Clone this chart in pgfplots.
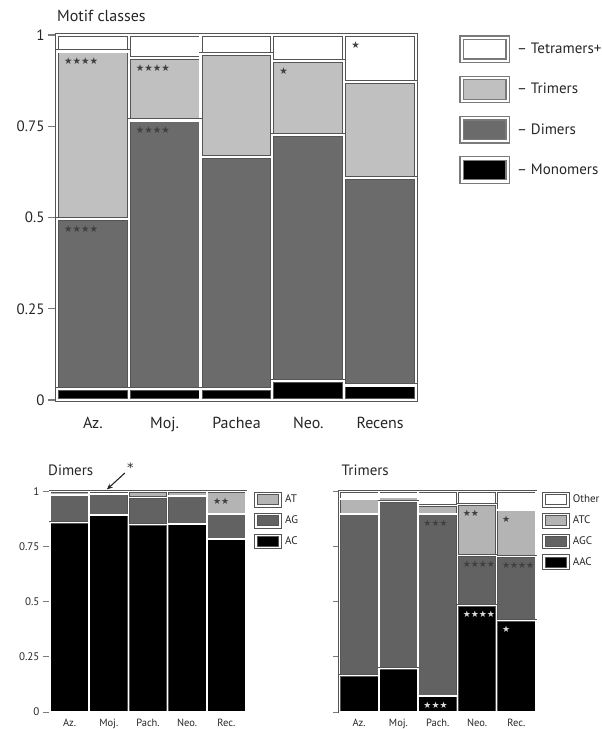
\documentclass[border=0pt]{standalone}
\usepackage{pgfplots}
\pgfplotsset{compat=1.18}
\usepackage{pgfplotstable}
\usetikzlibrary{arrows.meta}
\usepackage{fontspec}
\setmainfont{PT Sans}
\newfontfamily\sym{DejaVu Sans}
\definecolor{cTri}{HTML}{C0C0C0}
\definecolor{cDi}{HTML}{6B6B6B}
\definecolor{cAT}{HTML}{B4B4B4}
\definecolor{cAG}{HTML}{626262}
\definecolor{segline}{HTML}{555555}
\definecolor{frame}{HTML}{7A7A7A}

% Motif classes (fractions)
\pgfplotstableread{
x Mono Di Tri Tet
0 0.030 0.465 0.460 0.045
1 0.030 0.736 0.170 0.064
2 0.030 0.635 0.284 0.051
3 0.052 0.673 0.204 0.071
4 0.040 0.569 0.262 0.129
}\motif
\pgfplotstableread{
x y s
0 0.955 ★★★★
0 0.495 ★★★★
1 0.936 ★★★★
1 0.766 ★★★★
3 0.929 ★
4 1.000 ★
}\motifstars

% Dimers
\pgfplotstableread{
x AC AG AT
0 0.860 0.125 0.015
1 0.895 0.095 0.010
2 0.850 0.125 0.025
3 0.853 0.127 0.020
4 0.785 0.113 0.102
}\dimers
\pgfplotstableread{
x y s
4 1.000 ★★
}\dimstars

% Trimers
\pgfplotstableread{
x AAC AGC ATC Other
0 0.167 0.732 0.068 0.033
1 0.198 0.758 0.020 0.024
2 0.072 0.827 0.038 0.063
3 0.484 0.226 0.231 0.059
4 0.416 0.290 0.211 0.083
}\trimers
\pgfplotstableread{
x y s
2 0.899 ★★★
3 0.941 ★★
3 0.710 ★★★★
4 0.917 ★
4 0.706 ★★★★
}\tristarsdark
\pgfplotstableread{
x y s
2 0.072 ★★★
3 0.484 ★★★★
4 0.416 ★
}\tristarswhite

\begin{document}
\begin{tikzpicture}
\useasboundingbox (0,0) rectangle (602pt,-729pt);

% ---------------- Top: Motif classes ----------------
\begin{axis}[
  at={(57pt,-400pt)}, anchor=south west,
  scale only axis, width=359pt, height=365pt,
  ybar stacked, bar width=71.8pt,
  xmin=-0.5, xmax=4.5, ymin=0, ymax=1,
  xtick={0,...,4}, xticklabels={Az.,Moj.,Pachea,Neo.,Recens},
  ytick={0,0.25,0.5,0.75,1}, yticklabels={0,0.25,0.5,0.75,1},
  tick align=outside, major tick length=9pt,
  xtick style={draw=none}, ytick pos=left,
  axis line style={draw=frame, line width=1.3pt},
  ytick style={draw=frame, line width=1.3pt},
  yticklabel style={font=\fontsize{15}{18}\selectfont, text=black!85},
  xticklabel style={font=\fontsize{16}{19}\selectfont, yshift=-5pt, text=black!85},
  title={Motif classes},
  title style={at={(0,1)}, anchor=base west, yshift=8pt, inner sep=0pt,
               font=\fontsize{16}{19}\selectfont, text=black!85},
  every axis plot/.append style={draw=segline, double=white, double distance=2.2pt, line width=0.9pt},
  legend style={at={(1.12,1)}, anchor=north west, draw=none, fill=none,
                inner sep=0pt, row sep=12.5pt, column sep=5pt,
                font=\fontsize{15}{18}\selectfont, text=black!85, cells={anchor=west}},
  clip=false,
]
\addplot[fill=black, forget plot] table[x=x, y=Mono] {\motif};
\addplot[fill=cDi, forget plot] table[x=x, y=Di] {\motif};
\addplot[fill=cTri, forget plot] table[x=x, y=Tri] {\motif};
\addplot[fill=white, forget plot] table[x=x, y=Tet] {\motif};
\addlegendimage{legend image code/.code={\draw[fill=white, draw=frame, line width=1.3pt] (0pt,-11.5pt) rectangle (46pt,11.5pt);}}
\addlegendentry{– Tetramers+}
\addlegendimage{legend image code/.code={\draw[fill=cTri, draw=frame, line width=1.3pt] (0pt,-11.5pt) rectangle (46pt,11.5pt);}}
\addlegendentry{– Trimers}
\addlegendimage{legend image code/.code={\draw[fill=cDi, draw=frame, line width=1.3pt] (0pt,-11.5pt) rectangle (46pt,11.5pt);}}
\addlegendentry{– Dimers}
\addlegendimage{legend image code/.code={\draw[fill=black, draw=frame, line width=1.3pt] (0pt,-11.5pt) rectangle (46pt,11.5pt);}}
\addlegendentry{– Monomers}
\end{axis}
\begin{axis}[
  at={(57pt,-400pt)}, anchor=south west,
  scale only axis, width=359pt, height=365pt,
  xmin=-0.5, xmax=4.5, ymin=0, ymax=1,
  hide axis, clip=false,
]
\addplot[draw=none, mark=none, nodes near coords, point meta=explicit symbolic,
  nodes near coords style={font=\sym\fontsize{9.5}{9.5}\selectfont, anchor=north west,
    inner sep=0pt, xshift=-29pt, yshift=-6.5pt, text=black!75}]
  table[x=x, y=y, meta=s] {\motifstars};
\end{axis}

% ---------------- Bottom left: Dimers ----------------
\begin{axis}[
  at={(50pt,-712pt)}, anchor=south west,
  scale only axis, width=196pt, height=220.3pt,
  ybar stacked, bar width=39.2pt,
  xmin=-0.5, xmax=4.5, ymin=0, ymax=1,
  xtick={0,...,4}, xticklabels={Az.,Moj.,Pach.,Neo.,Rec.},
  ytick={0,0.25,0.5,0.75,1}, yticklabels={0,0.25,0.5,0.75,1},
  tick align=outside, major tick length=7pt,
  xtick style={draw=none}, ytick pos=left,
  axis line style={draw=frame, line width=1pt},
  ytick style={draw=frame, line width=1pt},
  yticklabel style={font=\fontsize{11}{13}\selectfont, text=black!85},
  xticklabel style={font=\fontsize{10.5}{12}\selectfont, yshift=3.5pt, text=black!85},
  title={Dimers},
  title style={at={(0,1)}, anchor=base west, yshift=10pt, xshift=-2pt, inner sep=0pt,
               font=\fontsize{15}{18}\selectfont, text=black!85},
  every axis plot/.append style={draw=segline, double=white, double distance=1.4pt, line width=0.6pt},
  legend style={at={(1.041,1)}, anchor=north west, draw=none, fill=none,
                inner sep=0pt, row sep=5pt, column sep=1.5pt,
                font=\fontsize{11}{13}\selectfont, text=black!85, cells={anchor=west}},
  clip=false,
]
\addplot[fill=black, forget plot] table[x=x, y=AC] {\dimers};
\addplot[fill=cAG, forget plot] table[x=x, y=AG] {\dimers};
\addplot[fill=cAT, forget plot] table[x=x, y=AT] {\dimers};
\addlegendimage{legend image code/.code={\draw[fill=cAT, draw=segline, line width=1pt] (0pt,-6.2pt) rectangle (24pt,6.2pt);}}
\addlegendentry{AT}
\addlegendimage{legend image code/.code={\draw[fill=cAG, draw=segline, line width=1pt] (0pt,-6.2pt) rectangle (24pt,6.2pt);}}
\addlegendentry{AG}
\addlegendimage{legend image code/.code={\draw[fill=black, draw=segline, line width=1pt] (0pt,-6.2pt) rectangle (24pt,6.2pt);}}
\addlegendentry{AC}
\end{axis}
\begin{axis}[
  at={(50pt,-712pt)}, anchor=south west,
  scale only axis, width=196pt, height=220.3pt,
  xmin=-0.5, xmax=4.5, ymin=0, ymax=1,
  hide axis, clip=false,
]
\addplot[draw=none, mark=none, nodes near coords, point meta=explicit symbolic,
  nodes near coords style={font=\sym\fontsize{9}{9}\selectfont, anchor=north west,
    inner sep=0pt, xshift=-13.5pt, yshift=-6pt, text=black!75}]
  table[x=x, y=y, meta=s] {\dimstars};
\draw[-{Stealth[length=6pt, width=5pt]}, line width=1.1pt, black!85] (axis cs:1.41,1.085) -- (axis cs:0.95,1.01);
\node[font=\sym\fontsize{13}{13}\selectfont, text=black!85, inner sep=0pt] at (axis cs:1.55,1.11) {*};
\end{axis}

% ---------------- Bottom right: Trimers ----------------
\begin{axis}[
  at={(339.5pt,-712pt)}, anchor=south west,
  scale only axis, width=196.5pt, height=220.3pt,
  ybar stacked, bar width=39.3pt,
  xmin=-0.5, xmax=4.5, ymin=0, ymax=1,
  xtick={0,...,4}, xticklabels={Az.,Moj.,Pach.,Neo.,Rec.},
  ytick={0,0.25,0.5,0.75,1}, yticklabels={},
  tick align=outside, major tick length=7pt,
  xtick style={draw=none}, ytick pos=left,
  axis line style={draw=frame, line width=1pt},
  ytick style={draw=frame, line width=1pt},
  xticklabel style={font=\fontsize{10.5}{12}\selectfont, yshift=3.5pt, text=black!85},
  title={Trimers},
  title style={at={(0,1)}, anchor=base west, yshift=10pt, xshift=2pt, inner sep=0pt,
               font=\fontsize{15}{18}\selectfont, text=black!85},
  every axis plot/.append style={draw=segline, double=white, double distance=1.4pt, line width=0.6pt},
  legend style={at={(1.032,1)}, anchor=north west, draw=none, fill=none,
                inner sep=0pt, row sep=5pt, column sep=1pt,
                font=\fontsize{11}{13}\selectfont, text=black!85, cells={anchor=west}},
  clip=false,
]
\addplot[fill=black, forget plot] table[x=x, y=AAC] {\trimers};
\addplot[fill=cAG, forget plot] table[x=x, y=AGC] {\trimers};
\addplot[fill=cAT, forget plot] table[x=x, y=ATC] {\trimers};
\addplot[fill=white, forget plot] table[x=x, y=Other] {\trimers};
\addlegendimage{legend image code/.code={\draw[fill=white, draw=segline, line width=1pt] (0pt,-6.2pt) rectangle (24pt,6.2pt);}}
\addlegendentry{Other}
\addlegendimage{legend image code/.code={\draw[fill=cAT, draw=segline, line width=1pt] (0pt,-6.2pt) rectangle (24pt,6.2pt);}}
\addlegendentry{ATC}
\addlegendimage{legend image code/.code={\draw[fill=cAG, draw=segline, line width=1pt] (0pt,-6.2pt) rectangle (24pt,6.2pt);}}
\addlegendentry{AGC}
\addlegendimage{legend image code/.code={\draw[fill=black, draw=segline, line width=1pt] (0pt,-6.2pt) rectangle (24pt,6.2pt);}}
\addlegendentry{AAC}
\end{axis}
\begin{axis}[
  at={(339.5pt,-712pt)}, anchor=south west,
  scale only axis, width=196.5pt, height=220.3pt,
  xmin=-0.5, xmax=4.5, ymin=0, ymax=1,
  hide axis, clip=false,
]
\addplot[draw=none, mark=none, nodes near coords, point meta=explicit symbolic,
  nodes near coords style={font=\sym\fontsize{9}{9}\selectfont, anchor=north west,
    inner sep=0pt, xshift=-14.5pt, yshift=-5.5pt, text=black!75}]
  table[x=x, y=y, meta=s] {\tristarsdark};
\addplot[draw=none, mark=none, nodes near coords, point meta=explicit symbolic,
  nodes near coords style={font=\sym\fontsize{9}{9}\selectfont, anchor=north west,
    inner sep=0pt, xshift=-14.5pt, yshift=-5.5pt, text=white!85!black}]
  table[x=x, y=y, meta=s] {\tristarswhite};
\end{axis}
\end{tikzpicture}
\end{document}
